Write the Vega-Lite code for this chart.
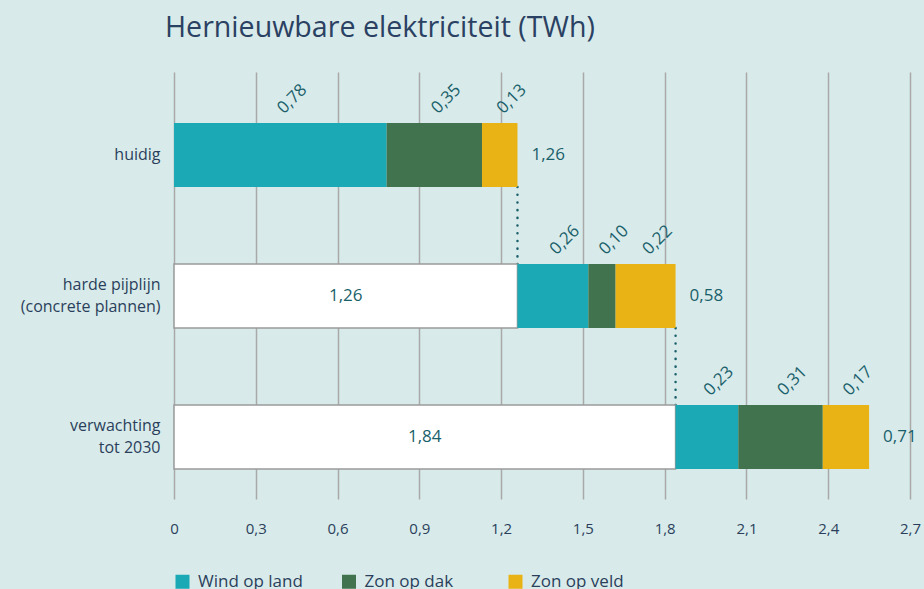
{
  "$schema": "https://vega.github.io/schema/vega-lite/v6.json",
  "width": 736,
  "height": 427,
  "autosize": {"type": "none"},
  "padding": {"left": 174, "top": 72, "right": 14, "bottom": 90},
  "background": "#d8ebea",
  "title": {
    "text": "Hernieuwbare elektriciteit (TWh)",
    "anchor": "start",
    "frame": "group",
    "dx": -9,
    "offset": 6,
    "baseline": "alphabetic",
    "fontSize": 28.6,
    "font": "Open Sans",
    "fontWeight": "normal",
    "color": "#2b4163"
  },
  "config": {
    "locale": {"number": {"decimal": ",", "thousands": ".", "grouping": [3], "currency": ["€ ", ""]}},
    "view": {"stroke": null},
    "font": "Open Sans"
  },
  "data": {
    "values": [
      {"cat": "huidig", "segment": "Wind op land", "order": 1, "value": 0.78},
      {"cat": "huidig", "segment": "Zon op dak", "order": 2, "value": 0.35},
      {"cat": "huidig", "segment": "Zon op veld", "order": 3, "value": 0.13},
      {"cat": "harde pijplijn|(concrete plannen)", "segment": "Basis", "order": 0, "value": 1.26},
      {"cat": "harde pijplijn|(concrete plannen)", "segment": "Wind op land", "order": 1, "value": 0.26},
      {"cat": "harde pijplijn|(concrete plannen)", "segment": "Zon op dak", "order": 2, "value": 0.10},
      {"cat": "harde pijplijn|(concrete plannen)", "segment": "Zon op veld", "order": 3, "value": 0.22},
      {"cat": "verwachting|tot 2030", "segment": "Basis", "order": 0, "value": 1.84},
      {"cat": "verwachting|tot 2030", "segment": "Wind op land", "order": 1, "value": 0.23},
      {"cat": "verwachting|tot 2030", "segment": "Zon op dak", "order": 2, "value": 0.31},
      {"cat": "verwachting|tot 2030", "segment": "Zon op veld", "order": 3, "value": 0.17}
    ]
  },
  "encoding": {
    "y": {
      "field": "cat",
      "type": "nominal",
      "title": null,
      "scale": {
        "domain": ["huidig", "harde pijplijn|(concrete plannen)", "verwachting|tot 2030"],
        "paddingInner": 0.546,
        "paddingOuter": 0.287,
        "align": 0.63
      },
      "axis": {
        "labelExpr": "split(datum.label, '|')",
        "domain": false,
        "ticks": false,
        "labelPadding": 14,
        "labelFontSize": 16,
        "labelColor": "#2b3f5c",
        "labelLineHeight": 22,
        "labelOffset": {"condition": {"test": "datum.value === 'huidig'", "value": 0}, "value": -11},
        "labelFont": "Open Sans"
      }
    }
  },
  "layer": [
    {
      "data": {
        "values": [
          {"cat": "huidig", "next": "harde pijplijn|(concrete plannen)", "x": 1.26},
          {"cat": "harde pijplijn|(concrete plannen)", "next": "verwachting|tot 2030", "x": 1.84}
        ]
      },
      "mark": {"type": "rule", "color": "#1a5f6a", "strokeWidth": 2.5, "strokeDash": [0.1, 7.6], "strokeCap": "round"},
      "encoding": {
        "x": {"field": "x", "type": "quantitative", "title": null},
        "y": {"field": "cat", "type": "nominal", "bandPosition": 1},
        "y2": {"field": "next"}
      }
    },
    {
      "mark": {"type": "bar", "strokeWidth": 1.5},
      "encoding": {
        "x": {
          "field": "value",
          "type": "quantitative",
          "stack": "zero",
          "title": null,
          "scale": {"domain": [0, 2.7], "nice": false},
          "axis": {
            "values": [0, 0.3, 0.6, 0.9, 1.2, 1.5, 1.8, 2.1, 2.4, 2.7],
            "format": ".1~f",
            "grid": true,
            "gridColor": "#a9a9a9",
            "gridWidth": 1.5,
            "domain": false,
            "ticks": false,
            "labelFlush": false,
            "labelPadding": 22,
            "labelFontSize": 15,
            "labelColor": "#2b3f5c",
            "labelFont": "Open Sans"
          }
        },
        "color": {
          "field": "segment",
          "type": "nominal",
          "scale": {
            "domain": ["Basis", "Wind op land", "Zon op dak", "Zon op veld"],
            "range": ["#ffffff", "#1aa9b5", "#41744e", "#eab315"]
          },
          "legend": {
            "title": null,
            "orient": "none",
            "legendX": 0,
            "legendY": 501,
            "direction": "horizontal",
            "values": ["Wind op land", "Zon op dak", "Zon op veld"],
            "symbolType": "square",
            "symbolSize": 196,
            "symbolStrokeWidth": 0,
            "labelFontSize": 17,
            "labelColor": "#2b3f5c",
            "labelFont": "Open Sans",
            "gridAlign": "all",
            "columnPadding": 37.5,
            "labelOffset": 7,
            "padding": 0
          }
        },
        "order": {"field": "order", "type": "quantitative"},
        "stroke": {"condition": {"test": "datum.segment === 'Basis'", "value": "#9a9a9a"}, "value": "transparent"}
      }
    },
    {
      "mark": {"type": "text", "angle": 315, "align": "center", "baseline": "middle", "dx": 48, "dy": -31, "fontSize": 17, "color": "#1a5f6a", "font": "Open Sans"},
      "encoding": {
        "x": {"field": "value", "type": "quantitative", "stack": "zero", "bandPosition": 0.5, "title": null},
        "detail": {"field": "segment"},
        "order": {"field": "order", "type": "quantitative"},
        "text": {"condition": {"test": "datum.segment === 'Basis'", "value": ""}, "field": "value", "type": "quantitative", "format": ".2f"}
      }
    },
    {
      "mark": {"type": "text", "align": "center", "baseline": "middle", "fontSize": 17, "color": "#1a5f6a", "font": "Open Sans"},
      "encoding": {
        "x": {"field": "value", "type": "quantitative", "stack": "zero", "bandPosition": 0.5, "title": null},
        "detail": {"field": "segment"},
        "order": {"field": "order", "type": "quantitative"},
        "text": {"condition": {"test": "datum.segment !== 'Basis'", "value": ""}, "field": "value", "type": "quantitative", "format": ".2f"}
      }
    },
    {
      "data": {
        "values": [
          {"cat": "huidig", "end": 1.26, "total": 1.26},
          {"cat": "harde pijplijn|(concrete plannen)", "end": 1.84, "total": 0.58},
          {"cat": "verwachting|tot 2030", "end": 2.55, "total": 0.71}
        ]
      },
      "mark": {"type": "text", "align": "left", "baseline": "middle", "dx": 14, "fontSize": 17, "color": "#1a5f6a", "font": "Open Sans"},
      "encoding": {
        "x": {"field": "end", "type": "quantitative", "title": null},
        "text": {"field": "total", "type": "quantitative", "format": ".2f"}
      }
    }
  ]
}
